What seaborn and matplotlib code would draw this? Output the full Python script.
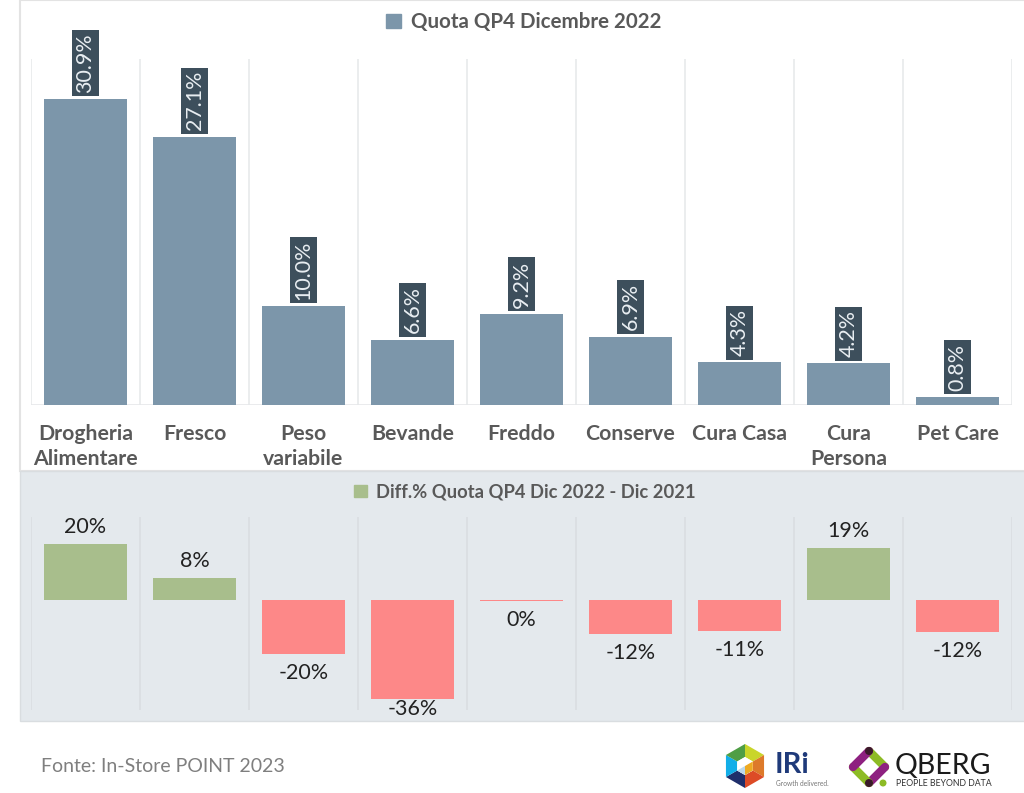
import numpy as np
import pandas as pd
import seaborn as sns
from matplotlib import pyplot as plt
from matplotlib.patches import Patch, Polygon, Rectangle, Circle

categories = ["Drogheria\nAlimentare", "Fresco", "Peso\nvariabile", "Bevande", "Freddo",
              "Conserve", "Cura Casa", "Cura\nPersona", "Pet Care"]
quota = [30.9, 27.1, 10.0, 6.6, 9.2, 6.9, 4.3, 4.2, 0.8]
diff_quota = [20.3, 8.0, -19.7, -36.0, -0.3, -12.3, -11.3, 19.0, -11.7]

BLUE = "#7c96aa"
GREEN = "#a8be8c"
RED = "#fd8888"
GRID = "#e6e8ea"
W, H = 1024, 793

sns.set_theme(style="white")
plt.rcParams["font.family"] = ["Lato", "DejaVu Sans"]


def px_axes(fig, left, top, right, bottom):
    return fig.add_axes([left / W, 1 - bottom / H, (right - left) / W, (bottom - top) / H])


def category_grid(ax, color):
    # separators between the categories, no ticks
    ax.set_xticks(np.arange(-0.5, 9.5), minor=True)
    ax.grid(True, which="minor", axis="x", color=color, lw=1.1)
    ax.tick_params(axis="x", which="minor", length=0)
    ax.set_axisbelow(True)
    ax.set_xlim(-0.5, 8.5)
    ax.set_ylabel("")
    ax.set_xlabel("")
    ax.set_yticks([])
    sns.despine(ax=ax, left=True, right=True, top=True, bottom=True)
    ax.patch.set_alpha(0)


def draw_logos(bg):
    cx, cy, r = 745, 766, 22
    hex_pts = [(cx + r * np.sin(a), cy - r * np.cos(a)) for a in np.radians(np.arange(0, 360, 60))]
    in_pts = [(cx + 9 * np.sin(a), cy - 9 * np.cos(a)) for a in np.radians(np.arange(0, 360, 60))]
    cols = ["#c9d52a", "#dd7a2a", "#dd4b26", "#1f2f6b", "#12aee8", "#4f9e45"]
    for i, col in enumerate(cols):
        j = (i + 1) % 6
        bg.add_patch(Polygon([hex_pts[i], hex_pts[j], in_pts[j], in_pts[i]], color=col, lw=0))
    bg.add_patch(Polygon(in_pts, color="white", lw=0))
    bg.add_patch(Polygon([(cx, cy), in_pts[2], in_pts[3], in_pts[4]], color="#bcd9ea", lw=0))
    bg.add_patch(Polygon([(cx, cy), in_pts[1], in_pts[2], in_pts[3]], color="#eeaa22", lw=0))
    bg.text(775, 765, "IRi", fontsize=21, fontweight="bold", color="#1f3a7a", va="center")
    bg.text(776, 784, "Growth delivered.", fontsize=4.8, color="#777777", va="center")

    # qberg diamond
    qx, qy = 869, 767
    tips = [(qx, qy - 16), (qx + 16, qy), (qx, qy + 16), (qx - 16, qy)]
    for i, col in enumerate(["#8dbb25", "#8e2180", "#8dbb25", "#8e2180"]):
        bg.plot([tips[i][0], tips[(i + 1) % 4][0]], [tips[i][1], tips[(i + 1) % 4][1]],
                color=col, lw=6, solid_capstyle="round")
    bg.add_patch(Circle((qx, qy - 16), 4, color="#3a1a2a", lw=0, zorder=3))
    bg.add_patch(Circle((qx, qy + 16), 4, color="#3a1a2a", lw=0, zorder=3))
    bg.add_patch(Circle((qx + 14, qy + 16), 3.5, color="#8dbb25", lw=0, zorder=3))
    bg.text(895, 766, "QBERG", fontsize=20.5, color="#1b1b1b", va="center")
    bg.text(896, 783, "PEOPLE BEYOND DATA", fontsize=6.3, color="#333333", va="center")


def main():
    df = pd.DataFrame({"cat": categories, "quota": quota, "diff": diff_quota})
    df["segno"] = np.where(df["diff"] >= 0, "pos", "neg")

    fig = plt.figure(figsize=(W / 100, H / 100), dpi=100, facecolor="white")

    bg = fig.add_axes([0, 0, 1, 1], zorder=0)
    bg.set_xlim(0, W)
    bg.set_ylim(H, 0)
    bg.axis("off")
    bg.add_patch(Rectangle((20, 0), W, 471, fc="white", ec="#e3e3e3", lw=1.5))
    bg.add_patch(Rectangle((20, 471), W, 250, fc="#e4e9ed", ec="#d9dde0", lw=1))
    draw_logos(bg)
    bg.text(41, 766, "Fonte: In-Store POINT 2023", fontsize=14, color="#7f7f7f", va="center")

    # top panel
    ax = px_axes(fig, 31, 59, 1012, 405)
    ax.set_zorder(1)
    sns.barplot(data=df, x="cat", y="quota", color=BLUE, width=0.77, saturation=1, linewidth=0, ax=ax)
    ax.set_ylim(0, 34.95)
    category_grid(ax, GRID)
    ax.axhline(0, color=GRID, lw=1.2, zorder=0)
    ax.tick_params(axis="x", which="major", length=0, pad=14, labelsize=15.3, labelcolor="#595959")
    for t in ax.get_xticklabels():
        t.set_fontweight("bold")
        t.set_linespacing(1.3)
    ax.bar_label(ax.containers[0], fmt="%.1f%%", rotation=90, padding=4.5, fontsize=15.4, color="#e9eef2",
                 clip_on=False, bbox=dict(fc="#3d4f5c", ec="none", pad=2.4))
    ax.legend(handles=[Patch(color=BLUE, label="Quota QP4 Dicembre 2022")], loc="center",
              bbox_to_anchor=(524 / W, 1 - 22 / H), bbox_transform=fig.transFigure, frameon=False,
              prop=dict(size=14.8, weight="bold"), labelcolor="#595959", handlelength=0.7,
              handleheight=0.7, handletextpad=0.5)

    # bottom panel
    ax2 = px_axes(fig, 31, 517, 1012, 710)
    ax2.set_zorder(1)
    sns.barplot(data=df, x="cat", y="diff", hue="segno", palette={"pos": GREEN, "neg": RED}, dodge=False,
                width=0.77, saturation=1, linewidth=0, legend=False, ax=ax2)
    ax2.set_ylim(-40, 30.2)
    category_grid(ax2, "#d9dde1")
    ax2.set_xticklabels([])
    ax2.tick_params(axis="x", which="major", length=0)
    for c in ax2.containers:
        labels = [f"{round(v)}%" for v in c.datavalues]
        pad = 5 if c.datavalues[0] > 0 else 6.5
        texts = ax2.bar_label(c, labels=labels, padding=pad, fontsize=15.5, color="#222222", clip_on=False)
        for t, v in zip(texts, c.datavalues):
            if v < -30:
                t.xyann = (0, 0)
    ax2.legend(handles=[Patch(color=GREEN, label="Diff.% Quota QP4 Dic 2022 - Dic 2021")], loc="center",
               bbox_to_anchor=(525 / W, 1 - 492 / H), bbox_transform=fig.transFigure, frameon=False,
               prop=dict(size=13.2, weight="bold"), labelcolor="#595959", handlelength=0.7,
               handleheight=0.7, handletextpad=0.5)

    fig.savefig("out.png", dpi=100)


if __name__ == "__main__":
    main()
